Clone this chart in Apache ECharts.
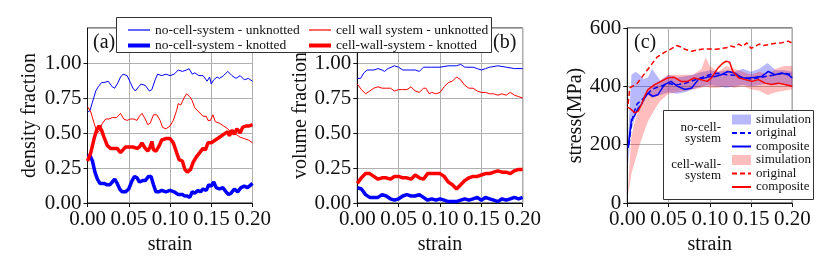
<!DOCTYPE html>
<html><head><meta charset="utf-8">
<script src="https://cdn.jsdelivr.net/npm/echarts@6/dist/echarts.min.js"></script>
<style>html,body{margin:0;padding:0;background:#fff}#c{width:830px;height:277px}</style>
</head><body><div id="c"></div>
<script>
// ---------- Tick settings ----------
const strainTicks = [0, 0.05, 0.10, 0.15, 0.20];
const fractionTicks = [0, 0.25, 0.5, 0.75, 1.0];
const stressTicks = [0, 200, 400, 600];

// ---------- Panel (a): density fraction ----------
const densNoCellUnknotted = [[0,0.65],[0.003,0.66],[0.006,0.72],[0.010,0.80],[0.013,0.83],[0.017,0.86],[0.020,0.86],[0.025,0.87],[0.030,0.83],[0.033,0.82],[0.037,0.86],[0.040,0.90],[0.043,0.92],[0.048,0.91],[0.052,0.86],[0.055,0.82],[0.058,0.80],[0.062,0.83],[0.065,0.85],[0.070,0.84],[0.075,0.80],[0.078,0.81],[0.082,0.88],[0.085,0.92],[0.090,0.91],[0.095,0.92],[0.100,0.91],[0.105,0.92],[0.110,0.95],[0.115,0.94],[0.120,0.95],[0.123,0.96],[0.127,0.92],[0.130,0.93],[0.135,0.91],[0.140,0.91],[0.145,0.87],[0.148,0.90],[0.150,0.85],[0.153,0.88],[0.157,0.90],[0.160,0.89],[0.165,0.91],[0.170,0.94],[0.175,0.91],[0.180,0.89],[0.185,0.91],[0.190,0.88],[0.195,0.89],[0.200,0.87]];
const densCellWallUnknotted = [[0,0.69],[0.004,0.65],[0.008,0.57],[0.012,0.50],[0.015,0.52],[0.018,0.57],[0.022,0.60],[0.026,0.60],[0.030,0.61],[0.035,0.61],[0.040,0.64],[0.044,0.60],[0.048,0.59],[0.052,0.60],[0.056,0.60],[0.060,0.59],[0.063,0.62],[0.066,0.64],[0.070,0.60],[0.073,0.56],[0.076,0.57],[0.080,0.63],[0.084,0.63],[0.088,0.59],[0.091,0.54],[0.095,0.53],[0.100,0.55],[0.104,0.59],[0.108,0.66],[0.110,0.71],[0.113,0.70],[0.117,0.75],[0.120,0.78],[0.124,0.76],[0.127,0.73],[0.130,0.68],[0.135,0.65],[0.140,0.62],[0.144,0.62],[0.146,0.59],[0.149,0.59],[0.152,0.63],[0.155,0.58],[0.160,0.57],[0.165,0.55],[0.170,0.53],[0.175,0.50],[0.180,0.49],[0.185,0.47],[0.190,0.46],[0.195,0.45],[0.200,0.43]];
const densCellWallKnotted = [[0,0.30],[0.004,0.36],[0.008,0.46],[0.011,0.52],[0.014,0.55],[0.017,0.52],[0.020,0.47],[0.024,0.41],[0.028,0.39],[0.032,0.39],[0.036,0.39],[0.040,0.36],[0.043,0.38],[0.046,0.40],[0.050,0.40],[0.055,0.40],[0.060,0.39],[0.063,0.40],[0.066,0.43],[0.068,0.44],[0.070,0.39],[0.073,0.37],[0.076,0.40],[0.078,0.44],[0.080,0.38],[0.083,0.37],[0.087,0.41],[0.090,0.45],[0.095,0.46],[0.100,0.46],[0.104,0.43],[0.108,0.36],[0.111,0.31],[0.115,0.30],[0.118,0.24],[0.121,0.22],[0.125,0.24],[0.128,0.29],[0.132,0.33],[0.136,0.36],[0.140,0.39],[0.143,0.38],[0.146,0.43],[0.150,0.43],[0.155,0.45],[0.160,0.47],[0.165,0.49],[0.170,0.51],[0.172,0.48],[0.175,0.52],[0.178,0.49],[0.181,0.53],[0.185,0.50],[0.188,0.54],[0.192,0.55],[0.196,0.55],[0.200,0.56]];
const densNoCellKnotted = [[0,0.33],[0.003,0.34],[0.006,0.30],[0.009,0.22],[0.012,0.17],[0.015,0.14],[0.020,0.14],[0.024,0.13],[0.027,0.13],[0.030,0.15],[0.033,0.17],[0.036,0.14],[0.039,0.10],[0.042,0.08],[0.046,0.08],[0.050,0.10],[0.054,0.16],[0.057,0.19],[0.060,0.18],[0.063,0.15],[0.067,0.16],[0.070,0.16],[0.074,0.19],[0.077,0.19],[0.080,0.13],[0.083,0.08],[0.086,0.08],[0.090,0.09],[0.095,0.08],[0.100,0.09],[0.105,0.08],[0.110,0.06],[0.115,0.06],[0.118,0.05],[0.121,0.05],[0.124,0.04],[0.127,0.08],[0.130,0.07],[0.134,0.09],[0.137,0.08],[0.140,0.10],[0.144,0.09],[0.147,0.13],[0.150,0.12],[0.153,0.15],[0.156,0.11],[0.160,0.10],[0.164,0.11],[0.168,0.08],[0.171,0.06],[0.174,0.07],[0.178,0.10],[0.182,0.08],[0.186,0.11],[0.190,0.12],[0.194,0.11],[0.198,0.13],[0.200,0.14]];

// ---------- Panel (b): volume fraction ----------
const volNoCellUnknotted = [[0,0.89],[0.004,0.89],[0.008,0.93],[0.012,0.95],[0.020,0.95],[0.025,0.96],[0.030,0.95],[0.033,0.94],[0.037,0.96],[0.045,0.98],[0.050,0.97],[0.055,0.95],[0.060,0.95],[0.065,0.95],[0.070,0.95],[0.075,0.94],[0.080,0.97],[0.090,0.97],[0.100,0.97],[0.110,0.98],[0.115,0.98],[0.120,0.98],[0.125,0.99],[0.130,0.97],[0.140,0.97],[0.145,0.96],[0.150,0.95],[0.155,0.96],[0.160,0.97],[0.170,0.98],[0.180,0.97],[0.190,0.96],[0.200,0.96]];
const volCellWallUnknotted = [[0,0.85],[0.005,0.81],[0.010,0.78],[0.015,0.80],[0.020,0.82],[0.025,0.83],[0.030,0.82],[0.035,0.82],[0.040,0.82],[0.045,0.80],[0.050,0.81],[0.055,0.81],[0.060,0.81],[0.065,0.83],[0.070,0.80],[0.075,0.79],[0.080,0.82],[0.083,0.82],[0.087,0.78],[0.090,0.79],[0.095,0.78],[0.100,0.79],[0.105,0.83],[0.110,0.86],[0.115,0.87],[0.120,0.90],[0.125,0.88],[0.130,0.84],[0.135,0.82],[0.140,0.82],[0.145,0.80],[0.150,0.79],[0.155,0.79],[0.160,0.78],[0.165,0.78],[0.170,0.77],[0.175,0.78],[0.180,0.77],[0.185,0.79],[0.190,0.77],[0.195,0.76],[0.200,0.75]];
const volCellWallKnotted = [[0,0.14],[0.005,0.18],[0.010,0.21],[0.015,0.21],[0.020,0.19],[0.025,0.17],[0.030,0.18],[0.035,0.18],[0.040,0.17],[0.045,0.19],[0.050,0.19],[0.055,0.18],[0.060,0.18],[0.065,0.17],[0.070,0.20],[0.075,0.18],[0.080,0.17],[0.085,0.21],[0.090,0.21],[0.095,0.21],[0.100,0.21],[0.105,0.19],[0.110,0.15],[0.115,0.13],[0.120,0.10],[0.125,0.13],[0.130,0.16],[0.135,0.18],[0.140,0.19],[0.145,0.19],[0.150,0.20],[0.155,0.21],[0.160,0.21],[0.165,0.22],[0.170,0.23],[0.175,0.22],[0.180,0.22],[0.185,0.21],[0.190,0.23],[0.195,0.24],[0.200,0.24]];
const volNoCellKnotted = [[0,0.11],[0.005,0.10],[0.010,0.06],[0.015,0.04],[0.020,0.04],[0.025,0.04],[0.030,0.06],[0.035,0.05],[0.040,0.03],[0.045,0.02],[0.050,0.03],[0.055,0.05],[0.060,0.06],[0.065,0.05],[0.070,0.05],[0.075,0.06],[0.080,0.04],[0.085,0.02],[0.090,0.03],[0.095,0.02],[0.100,0.03],[0.105,0.02],[0.110,0.01],[0.115,0.01],[0.120,0.01],[0.125,0.02],[0.130,0.03],[0.135,0.02],[0.140,0.03],[0.145,0.04],[0.150,0.02],[0.155,0.04],[0.160,0.03],[0.165,0.02],[0.170,0.01],[0.175,0.03],[0.180,0.02],[0.185,0.03],[0.190,0.04],[0.195,0.03],[0.200,0.04]];

// ---------- Panel (c): stress ----------
const bandStrain = [0.001,0.005,0.010,0.015,0.020,0.025,0.030,0.035,0.040,0.050,0.060,0.070,0.080,0.090,0.095,0.100,0.110,0.120,0.130,0.140,0.150,0.160,0.170,0.180,0.190,0.200];
const noCellSimLow  = [130,250,300,330,350,370,360,365,370,380,375,380,390,400,402,405,400,395,400,405,400,405,410,405,410,400];
const noCellSimHigh = [230,440,450,440,425,430,460,440,420,440,430,435,440,450,452,455,450,455,450,460,450,460,480,455,455,450];
const cellWallSimLow  = [30,100,150,200,240,280,305,330,350,375,380,385,390,395,400,395,395,400,395,400,390,385,370,380,385,390];
const cellWallSimHigh = [60,230,290,325,355,385,400,410,420,440,440,440,440,460,500,470,450,470,460,450,440,450,440,460,470,470];
const noCellOriginal = [[0.002,200],[0.005,270],[0.008,310],[0.012,340],[0.020,360],[0.030,390],[0.040,400],[0.050,410],[0.060,405],[0.070,410],[0.080,420],[0.090,430],[0.100,440],[0.110,445],[0.120,440],[0.130,438],[0.140,430],[0.150,425],[0.160,430],[0.170,435],[0.180,440],[0.190,445],[0.200,440]];
const noCellComposite = [[0.001,189],[0.003,239],[0.005,285],[0.009,300],[0.013,325],[0.017,337],[0.021,360],[0.025,377],[0.031,366],[0.037,371],[0.045,406],[0.053,417],[0.061,400],[0.070,389],[0.078,394],[0.086,423],[0.094,429],[0.100,434],[0.106,434],[0.114,440],[0.122,451],[0.130,446],[0.139,429],[0.147,429],[0.155,431],[0.163,434],[0.171,451],[0.179,440],[0.187,446],[0.195,440],[0.200,429]];
const cellWallOriginal = [[0.001,340],[0.003,395],[0.006,400],[0.012,410],[0.020,440],[0.028,470],[0.036,500],[0.044,515],[0.052,527],[0.060,540],[0.065,535],[0.070,527],[0.078,520],[0.085,525],[0.092,528],[0.100,528],[0.108,527],[0.115,530],[0.120,532],[0.125,538],[0.130,535],[0.135,545],[0.140,537],[0.145,549],[0.150,530],[0.155,537],[0.160,545],[0.165,540],[0.171,543],[0.180,548],[0.187,549],[0.195,555],[0.200,548]];
const cellWallComposite = [[0.000,330],[0.005,320],[0.009,309],[0.013,314],[0.017,337],[0.021,366],[0.025,389],[0.033,406],[0.041,417],[0.049,429],[0.057,431],[0.065,417],[0.073,417],[0.081,429],[0.089,423],[0.097,417],[0.102,429],[0.110,463],[0.116,480],[0.120,486],[0.124,483],[0.128,451],[0.135,429],[0.143,423],[0.151,417],[0.159,423],[0.167,411],[0.175,406],[0.183,411],[0.191,406],[0.200,400]];

const SERIF = '"Liberation Serif", "DejaVu Serif", serif';
const BLUE = '#0000ff', RED = '#ff0000';
const BLUE_BAND = 'rgba(0,0,255,0.28)', RED_BAND = 'rgba(255,0,0,0.26)';

const grids = [
  {left: 87.5, top: 28, width: 165, height: 175},
  {left: 357.3, top: 28, width: 165.4, height: 175},
  {left: 627.3, top: 28, width: 165, height: 175}
].map(g => Object.assign({show: true, borderColor: '#111', borderWidth: 1, backgroundColor: 'transparent'}, g));

function xAxis(i) {
  return {
    type: 'value', gridIndex: i, min: strainTicks[0], max: strainTicks[strainTicks.length - 1], interval: 0.05,
    name: 'strain', nameLocation: 'middle', nameGap: 32,
    nameTextStyle: {fontFamily: SERIF, fontSize: 20, color: '#111'},
    axisLine: {show: true, lineStyle: {color: '#111', width: 1}},
    axisTick: {show: true, length: 4, lineStyle: {color: '#111'}},
    axisLabel: {fontFamily: SERIF, fontSize: 21, color: '#111', margin: 6, formatter: v => v.toFixed(2)},
    splitLine: {show: true, lineStyle: {color: '#b0b0b0', width: 1}}
  };
}
function yAxisFrac(i, name, gap) {
  return {
    type: 'value', gridIndex: i, min: 0, max: 1.25, interval: 0.25,
    name: name, nameLocation: 'middle', nameGap: gap,
    nameTextStyle: {fontFamily: SERIF, fontSize: 20, color: '#111'},
    axisLine: {show: true, lineStyle: {color: '#111', width: 1}},
    axisTick: {show: true, length: 4, lineStyle: {color: '#111'}},
    axisLabel: {fontFamily: SERIF, fontSize: 21, color: '#111', margin: 6, showMaxLabel: false, formatter: v => v.toFixed(2)},
    splitLine: {show: true, lineStyle: {color: '#b0b0b0', width: 1}}
  };
}
const yAxisStress = {
  type: 'value', gridIndex: 2, min: stressTicks[0], max: stressTicks[stressTicks.length - 1], interval: 200,
  name: 'stress(MPa)', nameLocation: 'middle', nameGap: 40,
  nameTextStyle: {fontFamily: SERIF, fontSize: 20, color: '#111'},
  axisLine: {show: true, lineStyle: {color: '#111', width: 1}},
  axisTick: {show: true, length: 4, lineStyle: {color: '#111'}},
  axisLabel: {fontFamily: SERIF, fontSize: 21, color: '#111', margin: 6},
  splitLine: {show: true, lineStyle: {color: '#b0b0b0', width: 1}}
};

function line(name, data, idx, color, width, type) {
  return {type: 'line', name, data, xAxisIndex: idx, yAxisIndex: idx, symbol: 'none', silent: true, z: 3,
    lineStyle: {color, width, type: type || 'solid'}, itemStyle: {color}};
}
function band(name, xs, lo, hi, color, idx) {
  return {
    type: 'custom', name, xAxisIndex: idx, yAxisIndex: idx, silent: true, z: 2,
    data: xs.map((x, i) => [x, lo[i], hi[i]]), encode: {x: 0, y: [1, 2]},
    itemStyle: {color},
    renderItem(params, api) {
      if (params.dataIndex !== 0) return null;
      const pts = [];
      for (let i = 0; i < xs.length; i++) pts.push(api.coord([xs[i], hi[i]]));
      for (let i = xs.length - 1; i >= 0; i--) pts.push(api.coord([xs[i], lo[i]]));
      return {type: 'polygon', shape: {points: pts}, style: {fill: color}};
    }
  };
}

const N_UK = 'no-cell-system - unknotted', N_K = 'no-cell-system - knotted';
const C_UK = 'cell wall system - unknotted', C_K = 'cell-wall-system - knotted';

const series = [
  line(N_UK, densNoCellUnknotted, 0, BLUE, 1),
  line(C_UK, densCellWallUnknotted, 0, RED, 1),
  line(N_K, densNoCellKnotted, 0, BLUE, 3.5),
  line(C_K, densCellWallKnotted, 0, RED, 3.5),
  line(N_UK, volNoCellUnknotted, 1, BLUE, 1),
  line(C_UK, volCellWallUnknotted, 1, RED, 1),
  line(N_K, volNoCellKnotted, 1, BLUE, 3.5),
  line(C_K, volCellWallKnotted, 1, RED, 3.5),
  band('nc-sim', bandStrain, noCellSimLow, noCellSimHigh, BLUE_BAND, 2),
  band('cw-sim', bandStrain, cellWallSimLow, cellWallSimHigh, RED_BAND, 2),
  line('nc-orig', noCellOriginal, 2, BLUE, 1.5, [5, 3]),
  line('nc-comp', noCellComposite, 2, BLUE, 1.5),
  line('cw-orig', cellWallOriginal, 2, RED, 1.5, [5, 3]),
  line('cw-comp', cellWallComposite, 2, RED, 1.5)
];

const legendText = {fontFamily: SERIF, fontSize: 13.5, color: '#111'};
const legendTextC = {fontFamily: SERIF, fontSize: 13, color: '#111', lineHeight: 12};
const displayNames = {'nc-sim': 'simulation', 'nc-orig': 'original', 'nc-comp': 'composite', 'cw-sim': 'simulation', 'cw-orig': 'original', 'cw-comp': 'composite'};

const option = {
  animation: false,
  backgroundColor: '#fff',
  grid: grids,
  xAxis: [xAxis(0), xAxis(1), xAxis(2)],
  yAxis: [yAxisFrac(0, 'density fraction', 48), yAxisFrac(1, 'volume fraction', 46), yAxisStress],
  legend: [
    {orient: 'vertical', left: 121, top: 18, itemWidth: 22, itemHeight: 14, itemGap: 1.5, selectedMode: false, z: 20,
      textStyle: legendText, itemStyle: {opacity: 0},
      data: [{name: N_UK, lineStyle: {width: 1.2}}, {name: N_K, lineStyle: {width: 4}}]},
    {orient: 'vertical', left: 302, top: 18, itemWidth: 22, itemHeight: 14, itemGap: 1.5, selectedMode: false, z: 20,
      textStyle: legendText, itemStyle: {opacity: 0},
      data: [{name: C_UK, lineStyle: {width: 1.2}}, {name: C_K, lineStyle: {width: 4}}]},
    {orient: 'vertical', left: 731, top: 113, padding: 0, itemWidth: 19, itemHeight: 10, itemGap: 0.5, selectedMode: false, z: 20,
      textStyle: legendTextC, formatter: n => displayNames[n], itemStyle: {opacity: 0},
      data: [
        {name: 'nc-sim', icon: 'rect', itemStyle: {color: BLUE_BAND, opacity: 1}},
        {name: 'nc-orig'}, {name: 'nc-comp'},
        {name: 'cw-sim', icon: 'rect', itemStyle: {color: RED_BAND, opacity: 1}},
        {name: 'cw-orig'}, {name: 'cw-comp'}
      ]}
  ],
  graphic: [
    {type: 'rect', left: 116, top: 17, z: 15, shape: {width: 375, height: 35}, style: {fill: '#fff', stroke: '#333', lineWidth: 1}},
    {type: 'rect', left: 663, top: 110, z: 15, shape: {width: 150, height: 89}, style: {fill: '#fff', stroke: '#333', lineWidth: 1}},
    {type: 'text', x: 721, y: 122, z: 21, style: {text: 'no-cell-\nsystem', font: '13px ' + SERIF, fill: '#111', lineHeight: 11, align: 'right', verticalAlign: 'top'}},
    {type: 'text', x: 721, y: 159, z: 21, style: {text: 'cell-wall-\nsystem', font: '13px ' + SERIF, fill: '#111', lineHeight: 11, align: 'right', verticalAlign: 'top'}},
    {type: 'text', left: 93, top: 33, z: 10, style: {text: '(a)', font: '20px ' + SERIF, fill: '#111'}},
    {type: 'text', left: 493, top: 33, z: 10, style: {text: '(b)', font: '20px ' + SERIF, fill: '#111'}},
    {type: 'text', left: 634, top: 33, z: 10, style: {text: '(c)', font: '20px ' + SERIF, fill: '#111'}}
  ],
  series
};
const chart = echarts.init(document.getElementById('c'), null, {renderer: 'canvas'});
chart.setOption(option);
</script>
</body></html>
